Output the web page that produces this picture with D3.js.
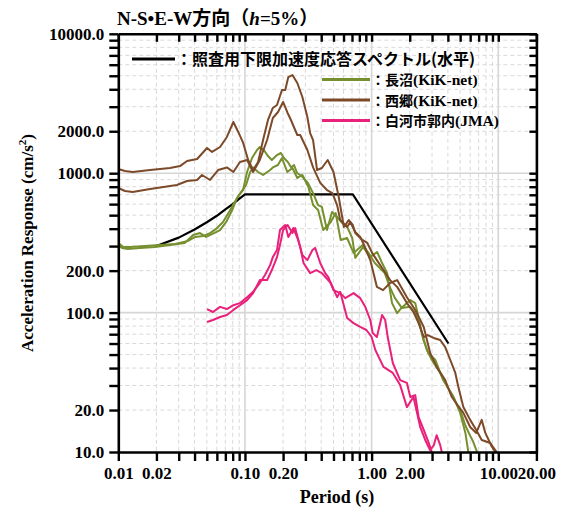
<!DOCTYPE html>
<html><head><meta charset="utf-8">
<script src="https://cdn.jsdelivr.net/npm/d3@7"></script>
<style>body{margin:0;background:#fff}</style>
</head><body><svg id="c" width="565" height="508"></svg>
<script>
// ---- data ----
const designPeriod = [0.02,0.03,0.04,0.05,0.06,0.07,0.08,0.09,0.1,0.71,4.04];
const designValue  = [300,345,395,445,495,550,600,655,706,706,60];

const naganumaNSPeriod = [0.01,0.0109,0.0124,0.0162,0.0213,0.0281,0.0356,0.0404,0.0467,0.053,0.0602,0.0671,0.0749,0.0822,0.0899,0.0966,0.1039,0.1138,0.1246,0.131,0.141,0.152,0.163,0.179,0.192,0.203,0.218,0.232,0.244,0.258,0.28,0.314,0.345,0.378,0.405,0.444,0.487,0.534,0.585,0.641,0.703,0.743,0.857,0.973,1.105,1.21,1.326,1.45,1.59,1.72,2.02,2.21,2.34,2.56,2.81,3.19,3.67,4.25,5.09,5.5,5.9,6.3,6.8];
const naganumaNSValue  = [315,296,296,300,305,311,327,349,354,372,404,447,527,611,698,757,1020,1285,1467,1542,1467,1327,1244,1350,1396,1285,1203,1100,1145,1003,955,852,720,591,573,391,527,485,440,412,343,247,296,250,272,227,192,117,99,108,123,117,93,63.6,51.3,45.7,32.8,26.5,19.1,15.5,13.5,12.0,10];
const naganumaEWPeriod = [0.01,0.0107,0.0119,0.0148,0.0195,0.0256,0.0334,0.039,0.0442,0.0493,0.0549,0.0636,0.0711,0.0793,0.0866,0.0932,0.102,0.11,0.116,0.127,0.139,0.158,0.166,0.182,0.196,0.216,0.237,0.259,0.284,0.317,0.345,0.378,0.415,0.476,0.52,0.57,0.64,0.72,0.85,0.935,1.06,1.16,1.27,1.39,1.53,1.73,2.02,2.21,2.42,2.73,2.99,3.48,3.96,4.44,5.01,5.5,5.8];
const naganumaEWValue  = [305,291,286,291,296,305,316,360,372,349,366,391,447,544,664,733,823,1020,1100,1020,971,1054,1100,1145,1285,1020,1089,924,971,796,591,544,391,447,518,332,343,268,305,272,227,209,192,153,127,108,110,99,78.9,53.9,45.7,36.9,29.3,24.8,19.0,13.7,10];

const nishigoNSPeriod = [0.01,0.0113,0.013,0.0178,0.0256,0.0307,0.0349,0.0419,0.0502,0.055,0.0636,0.072,0.081,0.0885,0.0968,0.106,0.116,0.127,0.139,0.152,0.166,0.179,0.196,0.208,0.22,0.237,0.259,0.284,0.311,0.327,0.345,0.371,0.405,0.45,0.5,0.55,0.604,0.66,0.71,0.743,0.845,0.925,1.01,1.1,1.24,1.4,1.59,1.74,1.9,2.14,2.35,2.58,2.77,3.09,3.48,3.81,4.18,4.58,4.84,5.3,6.0,6.7,7.4,8.65,9.7];
const nishigoNSValue  = [1072,1037,1020,1054,1089,1125,1224,1265,1517,1420,1542,1820,2329,1977,1648,1244,1054,1203,1730,2408,2937,3085,3954,3954,4895,5060,4436,3522,2531,1942,1730,1054,1089,1244,1020,675,411,461,425,372,332,316,268,238,202,171,153,134,117,101,84,66.8,69,65.8,63.6,56.6,45.7,36.9,29.3,21.0,17.0,14.4,12.2,11.6,10];
const nishigoEWPeriod = [0.01,0.0113,0.013,0.0178,0.029,0.0349,0.0419,0.0458,0.053,0.0614,0.072,0.081,0.0914,0.104,0.116,0.131,0.1496,0.166,0.1825,0.2,0.217,0.227,0.259,0.273,0.311,0.345,0.393,0.444,0.49,0.534,0.565,0.641,0.678,0.743,0.813,0.857,0.976,1.1,1.23,1.4,1.59,1.9,2.21,2.58,2.9,3.26,3.81,4.3,4.77,5.3,6.0,6.7,7.4,7.9,8.9,9.5];
const nishigoEWValue  = [783,745,733,770,823,879,894,971,894,1054,1100,1020,1203,1244,1020,1244,1730,2488,2748,3245,2705,2488,1880,1880,1467,1100,852,757,720,591,461,411,447,379,349,316,238,153,145,163,171,129,104.5,78.9,51.3,40.8,32.8,24.8,21.7,19.1,15.1,13.7,17.0,13.7,10.9,10];

const shirakawaNSPeriod = [0.0502,0.0559,0.0636,0.072,0.081,0.0914,0.104,0.116,0.131,0.144,0.158,0.166,0.179,0.189,0.208,0.22,0.241,0.263,0.284,0.311,0.341,0.358,0.393,0.43,0.455,0.5,0.565,0.619,0.72,0.813,0.891,0.976,1.02,1.1,1.21,1.28,1.34,1.47,1.68,1.9,2.02,2.21,2.35,2.58,2.83,3.0];
const shirakawaNSValue  = [106,101,110,106,113,117,129,141,163,186,219,250,281,391,425,349,404,332,259,238,281,291,227,192,180,145,138,127,138,127,110,88.5,71.5,66.8,96.2,88.5,66.8,43.5,32.8,31.3,24.8,25.6,17.8,14.4,11.6,9.8];
const shirakawaEWPeriod = [0.0502,0.0559,0.0636,0.072,0.081,0.0914,0.104,0.116,0.131,0.1496,0.163,0.179,0.189,0.2,0.217,0.237,0.249,0.273,0.29,0.327,0.366,0.405,0.476,0.534,0.565,0.641,0.72,0.813,0.91,1.0,1.07,1.24,1.47,1.68,1.9,2.14,2.42,2.65,2.9,3.1,3.26,3.48,3.6];
const shirakawaEWValue  = [85.7,88.5,93,96.2,104.5,113,123,138,171,171,202,250,305,391,425,372,404,296,227,192,202,192,163,129,141,91.4,84,78.9,75,66.8,53.9,40.8,36.9,30.2,21.0,24.8,15.1,12.2,10.3,11.2,13.2,11.2,9.8];

const xLabelValues = [0.01,0.02,0.1,0.2,1,2,10,20];
const xLabelTexts  = ["0.01","0.02","0.10","0.20","1.00","2.00","10.00","20.00"];
const yLabelValues = [10,20,100,200,1000,2000,10000];
const yLabelTexts  = ["10.0","20.0","100.0","200.0","1000.0","2000.0","10000.0"];
const legendNames  = ["長沼", "西郷", "白河市郭内"];
const legendTags   = ["(KiK-net)", "(KiK-net)", "(JMA)"];
const designLabel  = "：照査用下限加速度応答スペクトル(水平)";

// ---- layout ----
const svg = d3.select("#c");
const L = 118.3, R = 536.4, T = 33.8, B = 452;
const x = d3.scaleLog().domain([0.01, 20]).range([L, R]);
const y = d3.scaleLog().domain([10, 10000]).range([B, T]);
const serif = "'Liberation Serif','Times New Roman',serif";
const cjk = "'Noto Sans CJK JP','Liberation Serif',sans-serif";
const cGreen = "#76902f", cBrown = "#7c4a29", cPink = "#e8217b";

const xTicks = [];
for (const d of [0.01, 0.1, 1]) for (let k = 1; k <= 9; k++) xTicks.push(+(d * k).toPrecision(3));
xTicks.push(10, 20);
const yTicks = [];
for (const d of [10, 100, 1000]) for (let k = 1; k <= 9; k++) yTicks.push(d * k);
yTicks.push(10000);
const isDecade = v => Math.abs(Math.log10(v) - Math.round(Math.log10(v))) < 1e-6;

// grid
const grid = svg.append("g");
xTicks.filter(v => v > 0.01 && v < 20).forEach(v => {
  grid.append("line").attr("x1", x(v)).attr("x2", x(v)).attr("y1", T).attr("y2", B)
    .attr("stroke", isDecade(v) ? "#d6d6d6" : "#d9d9d9")
    .attr("stroke-width", isDecade(v) ? 1.6 : 1)
    .attr("stroke-dasharray", isDecade(v) ? null : "4,3");
});
yTicks.filter(v => v > 10 && v < 10000).forEach(v => {
  grid.append("line").attr("y1", y(v)).attr("y2", y(v)).attr("x1", L).attr("x2", R)
    .attr("stroke", isDecade(v) ? "#d6d6d6" : "#d9d9d9")
    .attr("stroke-width", isDecade(v) ? 1.6 : 1)
    .attr("stroke-dasharray", isDecade(v) ? null : "4,3");
});

// curves
svg.append("clipPath").attr("id", "clip").append("rect")
  .attr("x", L).attr("y", T).attr("width", R - L).attr("height", B - T);
const line = d3.line().x(d => x(d[0])).y(d => y(d[1]));
const plot = svg.append("g").attr("clip-path", "url(#clip)");
const series = [
  [designPeriod, designValue, "#000", 2.2],
  [naganumaNSPeriod, naganumaNSValue, cGreen, 2],
  [naganumaEWPeriod, naganumaEWValue, cGreen, 2],
  [nishigoNSPeriod, nishigoNSValue, cBrown, 2],
  [nishigoEWPeriod, nishigoEWValue, cBrown, 2],
  [shirakawaNSPeriod, shirakawaNSValue, cPink, 2],
  [shirakawaEWPeriod, shirakawaEWValue, cPink, 2]
];
series.forEach(([p, v, c, w]) => {
  plot.append("path").datum(d3.zip(p, v)).attr("d", line)
    .attr("fill", "none").attr("stroke", c).attr("stroke-width", w)
    .attr("stroke-linejoin", "round");
});

// axes
const fmtX = v => { const i = xLabelValues.findIndex(t => Math.abs(t - v) < 1e-9); return i >= 0 ? xLabelTexts[i] : ""; };
const fmtY = v => { const i = yLabelValues.findIndex(t => Math.abs(t - v) < 1e-9); return i >= 0 ? yLabelTexts[i] : ""; };
const styleAxis = g => {
  g.selectAll("path.domain").attr("stroke", "#000").attr("stroke-width", 2.6);
  g.selectAll(".tick line").attr("stroke", "#000").attr("stroke-width", 2.4);
  g.selectAll(".tick text").attr("font-family", serif).attr("font-weight", "bold")
    .attr("font-size", 17).attr("fill", "#000");
};
svg.append("g").attr("transform", `translate(0,${B})`)
  .call(d3.axisBottom(x).tickValues(xTicks).tickFormat(fmtX).tickSize(9).tickSizeOuter(0).tickPadding(6))
  .call(styleAxis);
svg.append("g").attr("transform", `translate(${L},0)`)
  .call(d3.axisLeft(y).tickValues(yTicks).tickFormat(fmtY).tickSize(9).tickSizeOuter(0).tickPadding(5))
  .call(styleAxis);
svg.append("g").attr("transform", `translate(0,${T})`)
  .call(d3.axisTop(x).tickValues(xTicks).tickFormat("").tickSize(-8).tickSizeOuter(0))
  .call(styleAxis);
svg.append("g").attr("transform", `translate(${R},0)`)
  .call(d3.axisRight(y).tickValues(yTicks).tickFormat("").tickSize(-7).tickSizeOuter(0))
  .call(styleAxis);

// axis titles
svg.append("text").attr("x", 337).attr("y", 503).attr("text-anchor", "middle")
  .attr("font-family", serif).attr("font-weight", "bold").attr("font-size", 18).text("Period (s)");
const yl = svg.append("text").attr("transform", "translate(33,243) rotate(-90)").attr("text-anchor", "middle")
  .attr("font-family", serif).attr("font-weight", "bold").attr("font-size", 17);
yl.append("tspan").text("Acceleration Response (cm/s");
yl.append("tspan").attr("dy", -7).attr("font-size", 11).text("2");
yl.append("tspan").attr("dy", 7).text(")");

// title
const tt = svg.append("text").attr("x", 117).attr("y", 25)
  .attr("font-family", serif).attr("font-weight", "bold").attr("font-size", 19);
tt.append("tspan").text("N-S•E-W");
tt.append("tspan").attr("font-family", cjk).text("方向（");
tt.append("tspan").attr("font-style", "italic").text("h");
tt.append("tspan").text("=5%");
tt.append("tspan").attr("font-family", cjk).text("）");

// legend
svg.append("line").attr("x1", 132).attr("x2", 175).attr("y1", 59).attr("y2", 59)
  .attr("stroke", "#000").attr("stroke-width", 3);
svg.append("text").attr("x", 176).attr("y", 65).attr("font-family", cjk).attr("font-weight", "bold")
  .attr("font-size", 16).text(designLabel);
const legColors = [cGreen, cBrown, cPink];
const legY = [79.5, 100, 120.5];
legendNames.forEach((n, i) => {
  svg.append("line").attr("x1", 322).attr("x2", 370).attr("y1", legY[i]).attr("y2", legY[i])
    .attr("stroke", legColors[i]).attr("stroke-width", 3.2);
  const t = svg.append("text").attr("x", 371).attr("y", legY[i] + 5.5)
    .attr("font-family", cjk).attr("font-weight", "bold").attr("font-size", 14);
  t.append("tspan").text("：" + n);
  t.append("tspan").attr("font-family", serif).attr("font-size", 15.5).text(legendTags[i]);
});
</script></body></html>
